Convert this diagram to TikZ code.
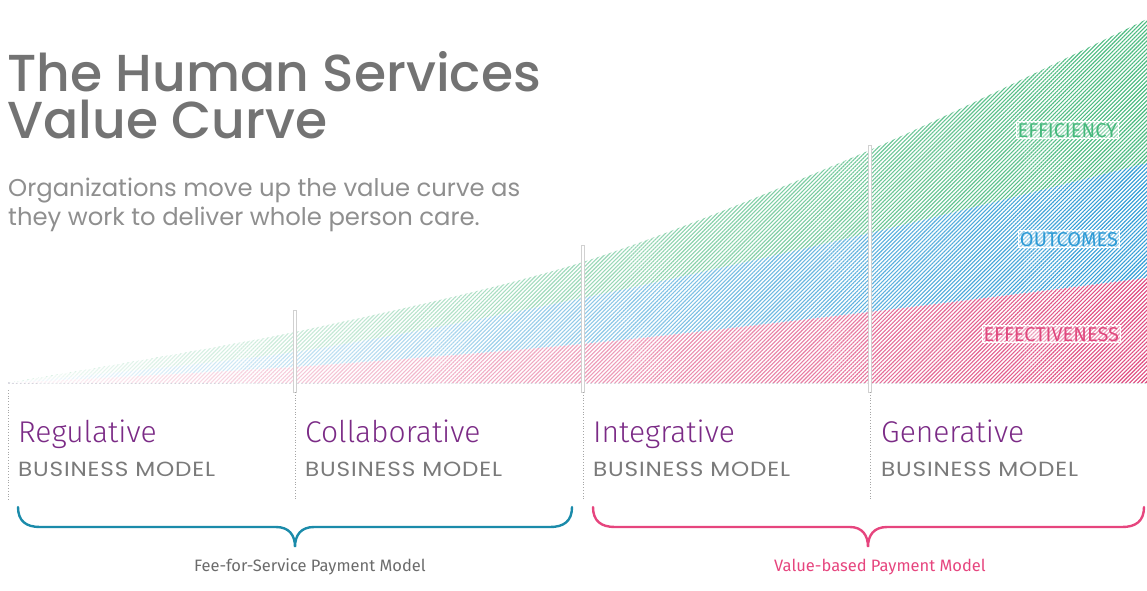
\documentclass[tikz,border=0pt]{standalone}
\usepackage{fontspec}
\setmainfont{Poppins}
\newfontfamily\headfont{Poppins Medium}
\newfontfamily\modelfont{Poppins}[FakeStretch=1.13, LetterSpace=4]
\newfontfamily\stagefont{Fira Sans Light}
\newfontfamily\notefont{Fira Sans}
\usetikzlibrary{patterns.meta,fadings,positioning}

\definecolor{titlegray}{HTML}{737373}
\definecolor{subgray}{HTML}{8F8F8F}
\definecolor{modelgray}{HTML}{7A7A7A}
\definecolor{notegray}{HTML}{6B6B6B}
\definecolor{stagepurple}{HTML}{7B2B86}
\definecolor{effgreen}{HTML}{45B97C}
\definecolor{outblue}{HTML}{2E9BD6}
\definecolor{effpink}{HTML}{E0487E}
\definecolor{feeteal}{HTML}{1B8BAA}
\definecolor{valuepink}{HTML}{E6457E}

\tikzfading[name=washout, left color=transparent!5, right color=transparent!100]

\begin{document}
\begin{tikzpicture}[
    x=1pt, y=-1pt,
    hatch/.style={pattern={Lines[angle=45,distance=2.8pt,line width=1.1pt]}, pattern color=#1},
    headline/.style={anchor=base west, inner sep=0pt, text=titlegray, font=\headfont\fontsize{52}{52}\selectfont},
    subline/.style={anchor=base west, inner sep=0pt, text=subgray, font=\fontsize{24.3}{25}\selectfont},
    stage/.style={anchor=base west, inner sep=0pt, text=stagepurple, font=\stagefont\fontsize{30}{30}\selectfont},
    model/.style={anchor=base west, inner sep=0pt, text=modelgray, font=\modelfont\fontsize{20.5}{21}\selectfont},
    level/.style={anchor=base east, text=#1, draw=white, line width=0.8pt, fill=white, fill opacity=0.4, text opacity=1, inner sep=1.5pt, font=\notefont\fontsize{20}{20}\selectfont},
    divider/.style={draw=black!18, fill=white, line width=0.6pt},
    guide/.style={draw=black!35, dotted, line width=0.8pt},
    brace/.style={draw=#1, line width=2.4pt, line cap=round},
    payment/.style={anchor=base, inner sep=0pt, text=#1, font=\notefont\fontsize{16.5}{17}\selectfont}
]
\useasboundingbox (0,0) rectangle (1147,590);

% hatched bands under the curve, widest first
\path[preaction={fill=white}, hatch=effgreen]
    plot[smooth] coordinates {(8,383) (295,332) (583,262) (870,150) (1147,19)} -- (1147,383) -- cycle;
\path[preaction={fill=white}, hatch=outblue]
    plot[smooth] coordinates {(8,383) (295,352) (583,298) (870,233) (1147,163)} -- (1147,383) -- cycle;
\path[preaction={fill=white}, hatch=effpink]
    plot[smooth] coordinates {(8,383) (295,367) (583,344) (870,312) (1147,278)} -- (1147,383) -- cycle;
% wash the bands out towards the left
\fill[white, path fading=washout]
    plot[smooth] coordinates {(8,383) (295,332) (583,262) (870,150) (1147,19)} -- (1147,383) -- cycle;

% stage dividers
\foreach \x/\top in {295/310, 583/245, 870/145} {
    \draw[divider] (\x-1.5,\top) rectangle (\x+1.5,392);
    \draw[guide] (\x,392) -- (\x,500);
}
\draw[guide] (8,390) -- (8,500);

% band labels
\node[level=effgreen] (efficiency) at (1119,137) {EFFICIENCY};
\node[level=outblue] (outcomes) at (1120,246) {OUTCOMES};
\node[level=effpink] (effectiveness) at (1121,341) {EFFECTIVENESS};

% heading
\node[headline] (title) at (7,91) {The Human Services};
\node[headline, below=47pt of title.base west, anchor=base west] (title2) {Value Curve};
\node[subline] (sub) at (8,196) {Organizations move up the value curve as};
\node[subline, below=29pt of sub.base west, anchor=base west] (sub2) {they work to deliver whole person care.};

% business models
\foreach \name/\xpos/\label in {reg/18/Regulative, col/305/Collaborative, int/593/Integrative, gen/881/Generative} {
    \node[stage] (\name) at (\xpos,442) {\label};
    \node[model, below=34pt of \name.base west, anchor=base west] (\name-model) {BUSINESS MODEL};
}

% payment model braces
\draw[brace=feeteal] (18,507) .. controls (18,521) and (26,527) .. (40,527) -- (276,527)
    .. controls (289,527) and (295,535) .. (295,547) .. controls (295,535) and (301,527) .. (314,527)
    -- (550,527) .. controls (564,527) and (572,521) .. (572,507);
\draw[brace=valuepink] (593,507) .. controls (593,521) and (601,527) .. (615,527) -- (850,527)
    .. controls (862,527) and (868,535) .. (868,547) .. controls (868,535) and (874,527) .. (887,527)
    -- (1122,527) .. controls (1136,527) and (1144,521) .. (1144,507);
\node[payment=notegray] (fee) at (310,571) {Fee-for-Service Payment Model};
\node[payment=valuepink] (value) at (880,571) {Value-based Payment Model};
\end{tikzpicture}
\end{document}
